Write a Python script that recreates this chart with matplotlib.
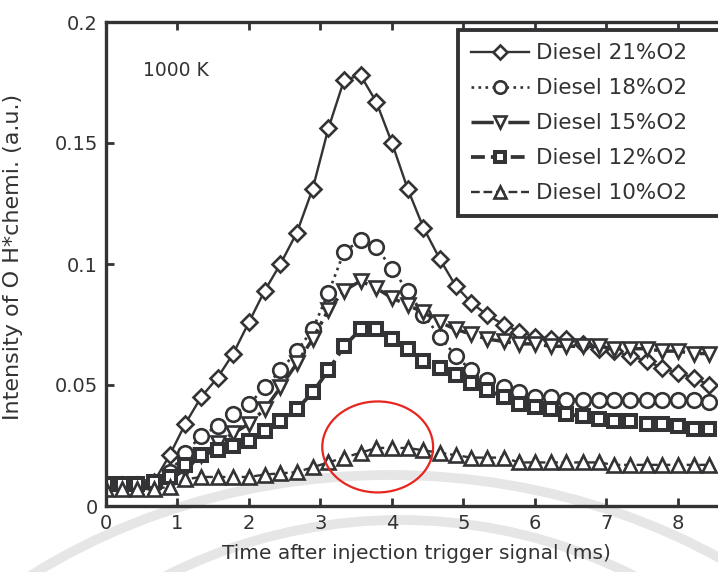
import matplotlib
matplotlib.use('Agg')
import matplotlib.pyplot as plt
from matplotlib.patches import Ellipse, Arc

# time after injection trigger (ms), one frame every ~0.222 ms
time_ms = [0.00, 0.22, 0.44, 0.67, 0.89, 1.11, 1.33, 1.56, 1.78, 2.00,
           2.22, 2.44, 2.67, 2.89, 3.11, 3.33, 3.56, 3.78, 4.00, 4.22,
           4.44, 4.67, 4.89, 5.11, 5.33, 5.56, 5.78, 6.00, 6.22, 6.44,
           6.67, 6.89, 7.11, 7.33, 7.56, 7.78, 8.00, 8.22, 8.44]

o2_21 = [0.008, 0.008, 0.008, 0.010, 0.021, 0.034, 0.045, 0.053, 0.063, 0.076,
         0.089, 0.100, 0.113, 0.131, 0.156, 0.176, 0.178, 0.167, 0.150, 0.131,
         0.115, 0.102, 0.091, 0.084, 0.079, 0.075, 0.072, 0.070, 0.069, 0.069,
         0.067, 0.065, 0.064, 0.062, 0.060, 0.057, 0.055, 0.053, 0.050]
o2_18 = [0.009, 0.009, 0.009, 0.009, 0.014, 0.022, 0.029, 0.033, 0.038, 0.042,
         0.049, 0.056, 0.064, 0.073, 0.088, 0.105, 0.110, 0.107, 0.098, 0.089,
         0.079, 0.070, 0.062, 0.056, 0.052, 0.049, 0.047, 0.045, 0.045, 0.044,
         0.044, 0.044, 0.044, 0.044, 0.044, 0.044, 0.044, 0.044, 0.043]
o2_15 = [0.008, 0.008, 0.008, 0.008, 0.011, 0.015, 0.021, 0.026, 0.030, 0.034,
         0.040, 0.049, 0.059, 0.069, 0.081, 0.089, 0.093, 0.090, 0.086, 0.083,
         0.080, 0.076, 0.073, 0.071, 0.069, 0.068, 0.067, 0.067, 0.066, 0.066,
         0.066, 0.066, 0.065, 0.065, 0.065, 0.064, 0.064, 0.063, 0.063]
o2_12 = [0.009, 0.009, 0.009, 0.010, 0.012, 0.017, 0.021, 0.023, 0.025, 0.027,
         0.031, 0.035, 0.040, 0.047, 0.056, 0.066, 0.073, 0.073, 0.069, 0.065,
         0.060, 0.057, 0.054, 0.051, 0.048, 0.045, 0.042, 0.041, 0.040, 0.038,
         0.037, 0.036, 0.035, 0.035, 0.034, 0.034, 0.033, 0.032, 0.032]
o2_10 = [0.007, 0.007, 0.007, 0.007, 0.008, 0.011, 0.012, 0.012, 0.012, 0.012,
         0.013, 0.0135, 0.014, 0.016, 0.018, 0.020, 0.022, 0.024, 0.024, 0.024,
         0.023, 0.022, 0.021, 0.020, 0.020, 0.020, 0.018, 0.018, 0.018, 0.018,
         0.018, 0.018, 0.017, 0.017, 0.017, 0.017, 0.017, 0.017, 0.017]

labels = ['Diesel 21%O2', 'Diesel 18%O2', 'Diesel 15%O2', 'Diesel 12%O2', 'Diesel 10%O2']

ink = '#333336'
W, H = 718, 572
fig = plt.figure(figsize=(W / 100, H / 100), dpi=100)

# faint grey arcs in the background of the scan
bg = fig.add_axes([0, 0, 1, 1])
bg.set_xlim(0, W)
bg.set_ylim(H, 0)
bg.axis('off')
bg.add_patch(Arc((390, 980), 1200, 1010, theta1=180, theta2=360,
                 color='#e6e6e6', lw=7))
bg.add_patch(Arc((400, 1000), 1000, 960, theta1=180, theta2=360,
                 color='#e6e6e6', lw=7))

ax = fig.add_axes([106 / W, 66 / H, (W - 106) / W, 484 / H])
ax.set_facecolor('none')

styles = [
    dict(ls='-', lw=1.7, marker='D', ms=8.5, mew=1.9),
    dict(ls=':', lw=1.9, marker='o', ms=10.5, mew=1.9),
    dict(ls='-.', lw=2.5, marker='v', ms=10.5, mew=1.9),
    dict(ls='--', lw=2.7, marker='s', ms=8.5, mew=2.9),
    dict(ls='--', lw=1.7, marker='^', ms=10.5, mew=1.9),
]
for ys, lab, st in zip([o2_21, o2_18, o2_15, o2_12, o2_10], labels, styles):
    ax.plot(time_ms, ys, color=ink, mfc='white', mec=ink, label=lab, **st)

ax.set_xlim(0, 8.56)
ax.set_ylim(0, 0.2)
ax.set_xticks(range(0, 9))
ax.set_yticks([0, 0.05, 0.1, 0.15, 0.2])
ax.set_yticklabels(['0', '0.05', '0.1', '0.15', '0.2'])
ax.tick_params(direction='in', length=6, width=2, top=True, right=False,
               labelsize=14, colors=ink, pad=6)
for side in ['left', 'bottom', 'top']:
    ax.spines[side].set_linewidth(2.4)
    ax.spines[side].set_color(ink)
ax.spines['right'].set_visible(False)

ax.set_xlabel('Time after injection trigger signal (ms)', fontsize=14.5,
              color=ink)
ax.xaxis.set_label_coords(0.508, -0.078)
ax.set_ylabel('Intensity of O H*chemi. (a.u.)', fontsize=16, color=ink)
ax.yaxis.set_label_coords(-0.135, 0.514)
ax.text(0.52, 0.180, '1000 K', fontsize=13.5, color=ink, va='center')

# legend box runs past the right edge of the picture
leg_x0 = (458 - 106) / 612
leg = ax.legend(loc='upper left', bbox_to_anchor=(leg_x0, 0, 1.03 - leg_x0, 0.983),
                mode='expand', fontsize=15.5, handlelength=2.7, handletextpad=0.3,
                labelspacing=0.7, borderpad=0.6, borderaxespad=0, markerscale=0.85,
                fancybox=False, framealpha=1)
leg.get_frame().set_edgecolor(ink)
leg.get_frame().set_linewidth(2.8)
for t in leg.get_texts():
    t.set_color(ink)

ax.add_patch(Ellipse((3.80, 0.0244), 1.55, 0.0376, fill=False,
                     edgecolor='#e8251f', lw=1.6, zorder=5))

fig.savefig('out.png', dpi=100)
